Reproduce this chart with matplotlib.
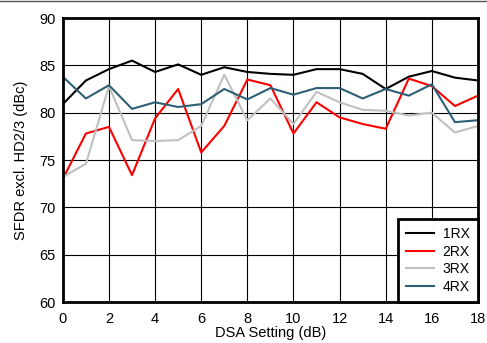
import numpy as np
import matplotlib
matplotlib.use("Agg")
import matplotlib.pyplot as plt
from matplotlib.lines import Line2D

# DSA attenuation steps (dB)
dsa = np.arange(0, 19)

# SFDR excl. HD2/3 (dBc) per RX count
sfdr_1rx = [80.9, 83.4, 84.6, 85.5, 84.3, 85.1, 84.0, 84.8, 84.3, 84.1,
            84.0, 84.6, 84.6, 84.1, 82.5, 83.8, 84.4, 83.7, 83.4]
sfdr_2rx = [73.0, 77.8, 78.5, 73.4, 79.4, 82.5, 75.8, 78.6, 83.5, 82.9,
            77.8, 81.1, 79.5, 78.8, 78.3, 83.6, 82.8, 80.7, 81.8]
sfdr_3rx = [73.2, 74.6, 82.8, 77.1, 77.0, 77.1, 78.6, 84.0, 79.2, 81.5,
            78.8, 82.2, 81.1, 80.3, 80.2, 79.7, 80.0, 77.9, 78.6]
sfdr_4rx = [83.8, 81.5, 82.9, 80.4, 81.1, 80.6, 80.9, 82.5, 81.4, 82.6,
            81.9, 82.6, 82.6, 81.5, 82.5, 81.8, 83.0, 79.0, 79.2]

labels = ["1RX", "2RX", "3RX", "4RX"]
colors = ["black", "#ff0000", "#c0c0c0", "#2d5f77"]


def main():
    plt.rcParams["font.family"] = ["Liberation Sans", "DejaVu Sans"]
    fig = plt.figure(figsize=(4.87, 3.43), dpi=100)
    ax = fig.add_axes([0.129, 0.1195, 0.8525, 0.828])

    for y, lab, c in zip([sfdr_1rx, sfdr_2rx, sfdr_3rx, sfdr_4rx], labels, colors):
        ax.plot(dsa, y, color=c, lw=1.5, label=lab)

    ax.set_xlim(0, 18)
    ax.set_ylim(60, 90)
    ax.set_xticks(range(0, 19, 2))
    ax.set_yticks(range(60, 91, 5))
    ax.tick_params(length=0, labelsize=10.5)
    ax.tick_params(axis="x", pad=7)
    ax.tick_params(axis="y", pad=5)
    ax.grid(True, color="black", lw=0.8)
    ax.set_axisbelow(True)
    for s in ax.spines.values():
        s.set_linewidth(2)

    ax.set_xlabel("DSA Setting (dB)", fontsize=10.5, labelpad=0)
    ax.set_ylabel("SFDR excl. HD2/3 (dBc)", fontsize=10.5, labelpad=8)

    leg = ax.legend(loc="lower right", borderaxespad=0, fontsize=10,
                    fancybox=False, framealpha=1, handlelength=2.0,
                    labelspacing=0.25, borderpad=0.6, handletextpad=0.6)
    leg.get_frame().set_edgecolor("black")
    leg.get_frame().set_linewidth(2)

    fig.add_artist(Line2D([0, 1], [0.997, 0.997], color="#555555", lw=1,
                          transform=fig.transFigure))

    fig.savefig("out.png", dpi=100)


if __name__ == "__main__":
    main()
